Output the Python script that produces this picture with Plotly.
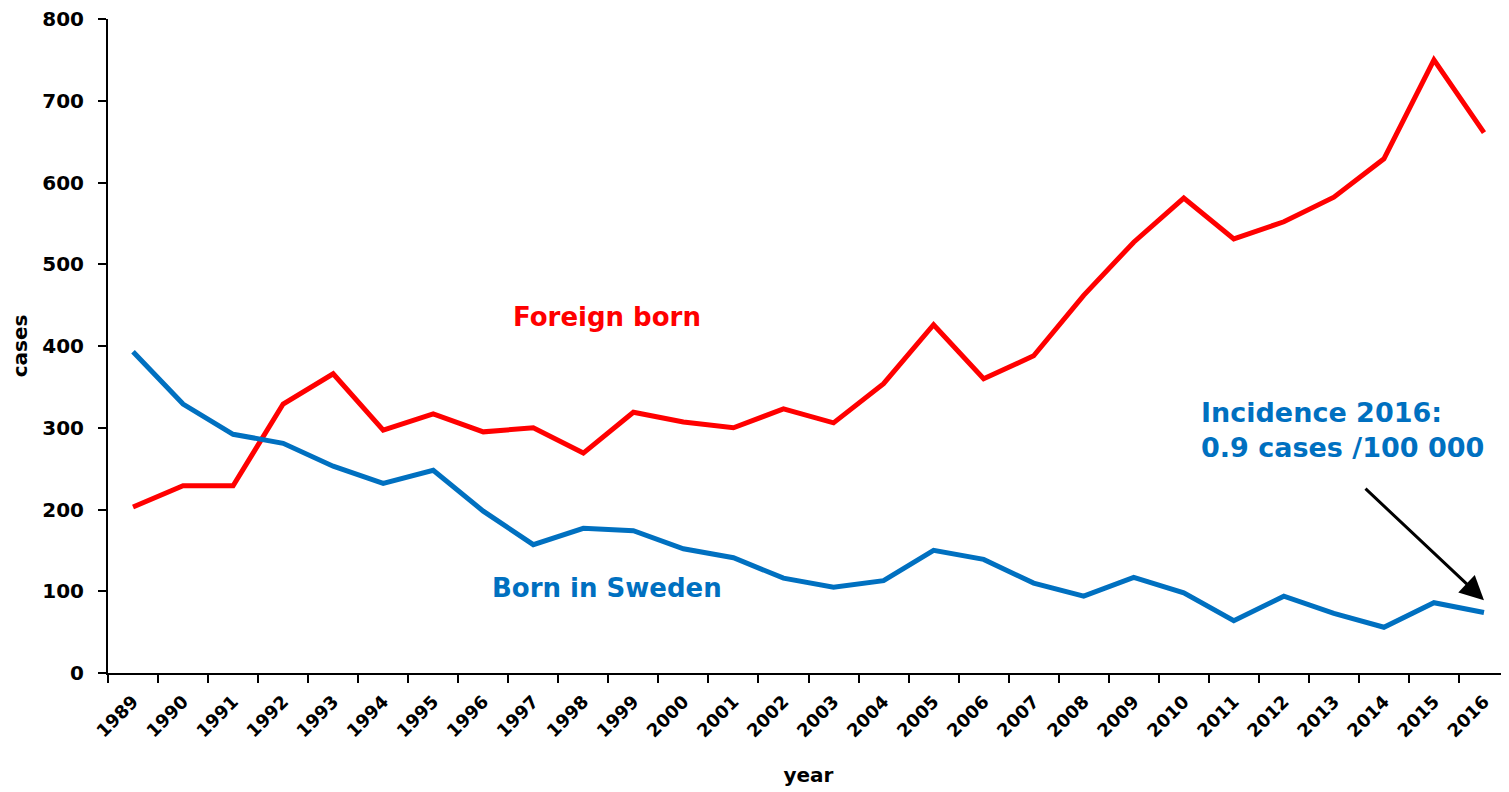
import plotly.graph_objects as go

years = [str(y) for y in range(1989, 2017)]
foreign_born = [203, 229, 229, 329, 366, 297, 317, 295, 300, 269, 319, 307, 300, 323,
                306, 354, 426, 360, 388, 462, 527, 581, 531, 552, 582, 629, 750, 661]
born_in_sweden = [393, 329, 292, 281, 253, 232, 248, 198, 157, 177, 174, 152, 141, 116,
                  105, 113, 150, 139, 110, 94, 117, 98, 64, 94, 73, 56, 86, 74]

FONT = "DejaVu Sans"
RED = "#FF0000"
BLUE = "#0070C0"

fig = go.Figure()
fig.add_trace(go.Scatter(x=years, y=foreign_born, mode="lines",
                         line=dict(color=RED, width=5), name="Foreign born"))
fig.add_trace(go.Scatter(x=years, y=born_in_sweden, mode="lines",
                         line=dict(color=BLUE, width=5), name="Born in Sweden"))

# page body has an 8px margin, so the figure is 8px smaller on each axis
fig.update_layout(
    width=1501, height=784,
    margin=dict(l=100, r=0, t=11, b=119, autoexpand=False),
    plot_bgcolor="white", paper_bgcolor="white",
    showlegend=False,
    font=dict(family=FONT, color="black", size=18),
)
fig.update_xaxes(
    type="category", range=[-0.5, 27.5], automargin=False,
    tickson="boundaries", ticks="outside", ticklen=8, tickwidth=2, tickcolor="black",
    showline=True, linecolor="black", linewidth=2, showgrid=False,
    tickangle=-45, ticklabelstandoff=9, ticklabeloverflow="allow",
    tickfont=dict(family=FONT, size=18, weight="bold"),
    title=dict(text="<b>year</b>", font=dict(family=FONT, size=20), standoff=28),
)
fig.update_yaxes(
    range=[0, 800], dtick=100, ticks="outside", ticklen=8, tickwidth=2, tickcolor="black",
    showline=True, linecolor="black", linewidth=2, showgrid=False, zeroline=False,
    automargin=False, ticklabelstandoff=10, ticklabeloverflow="allow",
    tickfont=dict(family=FONT, size=20, weight="bold"),
    title=dict(text="<b>cases</b>", font=dict(family=FONT, size=20), standoff=11),
)

fig.add_annotation(x=0.356, y=0.544, xref="paper", yref="paper", text="<b>Foreign born</b>",
                   showarrow=False, font=dict(family=FONT, size=26, color=RED))
fig.add_annotation(x=0.356, y=0.104, xref="paper", yref="paper", text="<b>Born in Sweden</b>",
                   showarrow=False, font=dict(family=FONT, size=26, color=BLUE))
fig.add_annotation(x=0.779, y=0.372, xref="paper", yref="paper", xanchor="left",
                   yanchor="middle", align="left",
                   text="<b>Incidence 2016:<br>0.9 cases /100 000</b>",
                   showarrow=False, font=dict(family=FONT, size=27, color=BLUE))
fig.add_annotation(x=years.index("2016"), y=89, xref="x", yref="y", ax=-120, ay=-113,
                   axref="pixel", ayref="pixel", text="", showarrow=True,
                   arrowhead=2, arrowsize=1.6, arrowwidth=3, arrowcolor="black",
                   standoff=0, startstandoff=0)

fig.write_html("out.html")
